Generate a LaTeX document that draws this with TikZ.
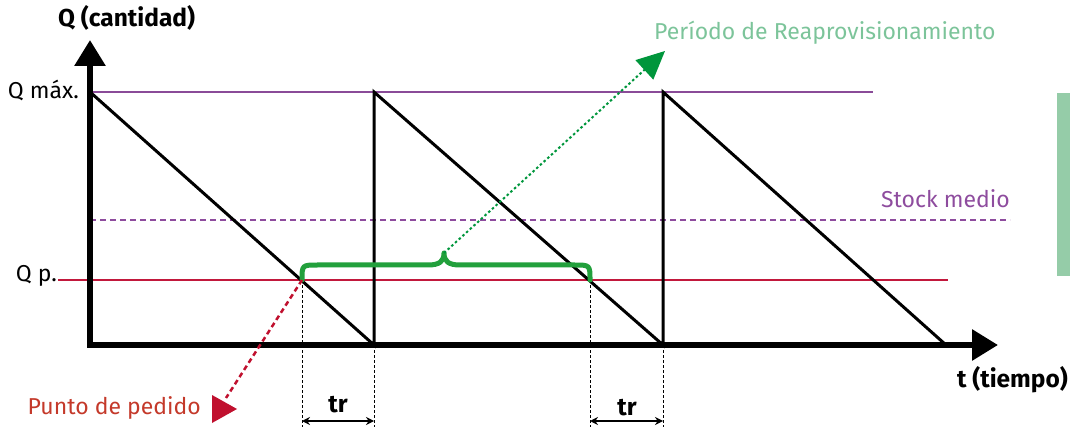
\documentclass[tikz,border=0pt]{standalone}
\usepackage{fontspec}
\setmainfont{Fira Sans}
\usetikzlibrary{arrows.meta}
\definecolor{qmaxc}{HTML}{8A4B98}
\definecolor{qpc}{HTML}{C2183C}
\definecolor{stockc}{HTML}{8E4C9E}
\definecolor{bracec}{HTML}{22A03C}
\definecolor{arrowg}{HTML}{00963C}
\definecolor{perlab}{HTML}{7CC49A}
\definecolor{redlab}{HTML}{C4392A}
\definecolor{redarr}{HTML}{C0102E}
\definecolor{sidebar}{HTML}{95CCA8}
\tikzset{
  axisline/.style={line width=6pt,-{Triangle[length=26pt,width=30pt]}},
  saw/.style={line width=3pt,line join=miter},
  guide/.style={line width=1pt,dash pattern=on 3pt off 2pt},
  trarrow/.style={line width=1.3pt,{Stealth[length=8pt,width=8pt]}-{Stealth[length=8pt,width=8pt]}},
  lab/.style={font=\fontsize{23}{26}\selectfont,inner sep=0pt},
  boldlab/.style={font=\fontsize{24.5}{28}\selectfont\bfseries,inner sep=0pt}
}
\begin{document}
\begin{tikzpicture}[x=1pt,y=-1pt]
\useasboundingbox (0,0) rectangle (1070,427);
% key coordinates
\coordinate (O) at (90,345);
\coordinate (Ytop) at (90,40);
\coordinate (Xend) at (998,345);
\coordinate (M1) at (90,92);
\coordinate (Z1) at (374,345);
\coordinate (M2) at (374,92);
\coordinate (Z2) at (663,345);
\coordinate (M3) at (663,92);
\coordinate (Z3) at (946,345);
\coordinate (P1) at (302,280);
\coordinate (P2) at (590,280);
\coordinate (B) at (444,253);
\coordinate (Gtip) at (665,51);
\coordinate (Rend) at (226,398);
% side bar
\fill[sidebar] (1057,93) rectangle (1070,276);
% reference lines
\draw[qmaxc,line width=1.5pt] (M1) -- (873,92);
\draw[stockc,line width=2pt,dash pattern=on 6pt off 4pt] (90,220) -- (1010,220);
\draw[qpc,line width=1.3pt] (58,280) -- (948,280);
% guides
\draw[guide] (P1) -- (302,427);
\draw[guide] (Z1) -- (374,427);
\draw[guide] (P2) -- (590,427);
\draw[guide] (Z2) -- (663,427);
% sawtooth
\draw[saw] (M1) -- (Z1) -- (M2) -- (Z2) -- (M3) -- (Z3);
% axes
\draw[axisline] (90,347) -- (Ytop);
\draw[axisline] (87,345) -- (Xend);
% brace
\draw[bracec,line width=5pt,line cap=round,line join=round]
  (P1) .. controls (302,265) .. (318,265) -- (428,265)
  .. controls (440,265) and (444,261) .. (B)
  .. controls (444,261) and (448,265) .. (460,265) -- (574,265)
  .. controls (590,265) .. (P2);
% green dotted arrow
\draw[arrowg,line width=2pt,dash pattern=on 2.5pt off 2.5pt,-{Triangle[length=28pt,width=26pt]}] (B) -- (Gtip);
% red dashed connector and triangle
\draw[redarr,line width=2.5pt,dash pattern=on 5pt off 3.5pt] (P1) -- (Rend);
\fill[redarr] (212,395) -- (237,409) -- (212,423) -- cycle;
% tr arrows
\draw[trarrow] (302,421) -- (374,421);
\draw[trarrow] (590,421) -- (663,421);
% labels
\node[boldlab,anchor=west] (qlab) at (58,18) {Q (cantidad)};
\node[boldlab,anchor=east] (tlab) at (1068,380) {t (tiempo)};
\node[lab,anchor=east] (qmax) at (79,90) {Q máx.};
\node[lab,anchor=east] (qp) at (57,276) {Q p.};
\node[lab,perlab,anchor=west] (per) at (654,33) {Período de Reaprovisionamiento};
\node[lab,stockc,anchor=east] (stock) at (1010,199) {Stock medio};
\node[lab,redlab,anchor=east] (punto) at (201,408) {Punto de pedido};
\node[boldlab] (tr1) at (338,405) {tr};
\node[boldlab] (tr2) at (627,408) {tr};
\end{tikzpicture}
\end{document}
